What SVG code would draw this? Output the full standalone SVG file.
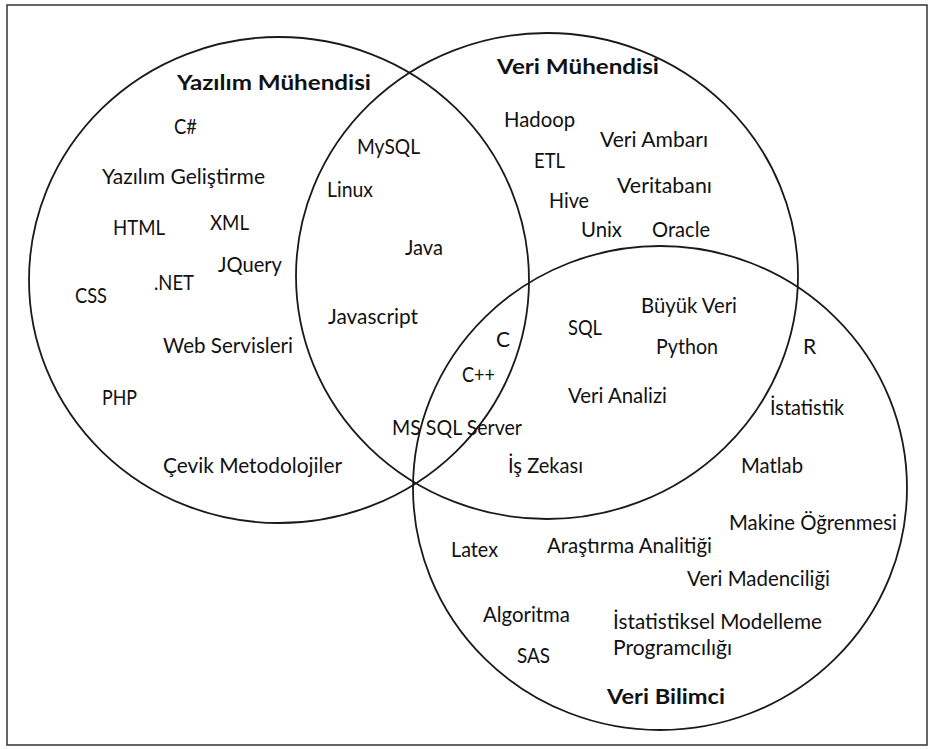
<svg xmlns="http://www.w3.org/2000/svg" width="935" height="749" viewBox="0 0 935 749">
<style>
.frame{fill:#fff;stroke:#333;stroke-width:1.5}
.set{fill:none;stroke:#1a1a1a;stroke-width:1.8}
text{font-family:Lato,"Noto Sans","Liberation Sans",sans-serif;font-size:21px;fill:#111}
.title{font-weight:bold}
</style>
<rect class="frame" x="7" y="5" width="920" height="740"/>
<g id="connectors"></g>
<g id="set-yazilim-muhendisi">
<ellipse class="set" cx="279" cy="280" rx="250" ry="243"/>
<text class="title" x="177" y="90" textLength="194" lengthAdjust="spacingAndGlyphs">Yazılım Mühendisi</text>
</g>
<g id="set-veri-muhendisi">
<ellipse class="set" cx="547" cy="276" rx="251" ry="243"/>
<text class="title" x="497" y="74" textLength="162" lengthAdjust="spacingAndGlyphs">Veri Mühendisi</text>
</g>
<g id="set-veri-bilimci">
<ellipse class="set" cx="660" cy="488" rx="247" ry="242"/>
<text class="title" x="607" y="704" textLength="118" lengthAdjust="spacingAndGlyphs">Veri Bilimci</text>
</g>
<g id="items">
<text x="174" y="134" textLength="23" lengthAdjust="spacingAndGlyphs">C#</text>
<text x="102" y="184" textLength="163" lengthAdjust="spacingAndGlyphs">Yazılım Geliştirme</text>
<text x="113" y="235" textLength="52" lengthAdjust="spacingAndGlyphs">HTML</text>
<text x="210" y="230" textLength="39" lengthAdjust="spacingAndGlyphs">XML</text>
<text x="218" y="272" textLength="64" lengthAdjust="spacingAndGlyphs">JQuery</text>
<text x="154" y="290" textLength="40" lengthAdjust="spacingAndGlyphs">.NET</text>
<text x="75" y="303" textLength="32" lengthAdjust="spacingAndGlyphs">CSS</text>
<text x="357" y="154" textLength="63" lengthAdjust="spacingAndGlyphs">MySQL</text>
<text x="327" y="197" textLength="46" lengthAdjust="spacingAndGlyphs">Linux</text>
<text x="405" y="255" textLength="38" lengthAdjust="spacingAndGlyphs">Java</text>
<text x="328" y="324" textLength="90" lengthAdjust="spacingAndGlyphs">Javascript</text>
<text x="163" y="353" textLength="130" lengthAdjust="spacingAndGlyphs">Web Servisleri</text>
<text x="102" y="405" textLength="35" lengthAdjust="spacingAndGlyphs">PHP</text>
<text x="163" y="473" textLength="179" lengthAdjust="spacingAndGlyphs">Çevik Metodolojiler</text>
<text x="392" y="435" textLength="130" lengthAdjust="spacingAndGlyphs">MS SQL Server</text>
<text x="504" y="127" textLength="71" lengthAdjust="spacingAndGlyphs">Hadoop</text>
<text x="600" y="147" textLength="108" lengthAdjust="spacingAndGlyphs">Veri Ambarı</text>
<text x="534" y="168" textLength="31" lengthAdjust="spacingAndGlyphs">ETL</text>
<text x="617" y="193" textLength="95" lengthAdjust="spacingAndGlyphs">Veritabanı</text>
<text x="549" y="208" textLength="40" lengthAdjust="spacingAndGlyphs">Hive</text>
<text x="581" y="237" textLength="41" lengthAdjust="spacingAndGlyphs">Unix</text>
<text x="652" y="237" textLength="58" lengthAdjust="spacingAndGlyphs">Oracle</text>
<text x="641" y="313" textLength="96" lengthAdjust="spacingAndGlyphs">Büyük Veri</text>
<text x="568" y="335" textLength="34" lengthAdjust="spacingAndGlyphs">SQL</text>
<text x="496" y="347">C</text>
<text x="656" y="354" textLength="62" lengthAdjust="spacingAndGlyphs">Python</text>
<text x="803" y="354">R</text>
<text x="462" y="382" textLength="33" lengthAdjust="spacingAndGlyphs">C++</text>
<text x="568" y="403" textLength="99" lengthAdjust="spacingAndGlyphs">Veri Analizi</text>
<text x="770" y="415" textLength="74" lengthAdjust="spacingAndGlyphs">İstatistik</text>
<text x="508" y="473" textLength="75" lengthAdjust="spacingAndGlyphs">İş Zekası</text>
<text x="741" y="473" textLength="62" lengthAdjust="spacingAndGlyphs">Matlab</text>
<text x="729" y="530" textLength="168" lengthAdjust="spacingAndGlyphs">Makine Öğrenmesi</text>
<text x="451" y="557" textLength="47" lengthAdjust="spacingAndGlyphs">Latex</text>
<text x="547" y="553" textLength="165" lengthAdjust="spacingAndGlyphs">Araştırma Analitiği</text>
<text x="687" y="586" textLength="143" lengthAdjust="spacingAndGlyphs">Veri Madenciliği</text>
<text x="483" y="622" textLength="87" lengthAdjust="spacingAndGlyphs">Algoritma</text>
<text x="613" y="629" textLength="209" lengthAdjust="spacingAndGlyphs">İstatistiksel Modelleme</text>
<text x="613" y="655" textLength="119" lengthAdjust="spacingAndGlyphs">Programcılığı</text>
<text x="517" y="663" textLength="33" lengthAdjust="spacingAndGlyphs">SAS</text>
</g>
</svg>
